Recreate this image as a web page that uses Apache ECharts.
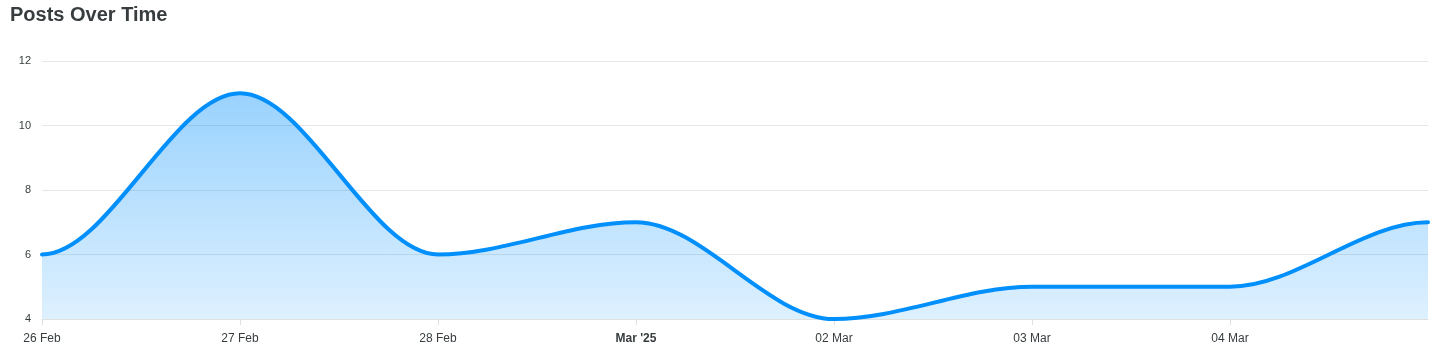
<!DOCTYPE html>
<html>
<head>
<meta charset="utf-8">
<script src="https://cdn.jsdelivr.net/npm/echarts@6/dist/echarts.min.js"></script>
<style>
html,body{margin:0;padding:0;background:#fff;}
#c{width:1439px;height:350px;}
</style>
</head>
<body>
<div id="c"></div>
<script>
var titleText = 'Posts Over Time';
var categories = ['26 Feb', '27 Feb', '28 Feb', "Mar '25", '02 Mar', '03 Mar', '04 Mar', '05 Mar'];
var shownLabels = ['26 Feb', '27 Feb', '28 Feb', "Mar '25", '02 Mar', '03 Mar', '04 Mar', ''];
var boldLabels = ["Mar '25"];
var posts = [6, 11, 6, 7, 4, 5, 5, 7];
var yTicks = [4, 6, 8, 10, 12];

var chart = echarts.init(document.getElementById('c'), null, {renderer: 'canvas'});
var font = 'Helvetica, Arial, "Liberation Sans", sans-serif';

function renderCurve(params, api) {
  if (params.dataIndex !== 0) return null;
  var pts = posts.map(function (v, i) { return api.coord([i, v]); });
  var base = api.coord([0, yTicks[0]])[1];
  var topY = api.coord([0, Math.max.apply(null, posts)])[1];
  var d = 'M' + pts[0][0] + ' ' + pts[0][1];
  for (var i = 1; i < pts.length; i++) {
    var p0 = pts[i - 1], p1 = pts[i];
    var dx = (p1[0] - p0[0]) / 3;
    d += ' C' + (p0[0] + dx) + ' ' + p0[1] + ' ' + (p1[0] - dx) + ' ' + p1[1] + ' ' + p1[0] + ' ' + p1[1];
  }
  var last = pts[pts.length - 1];
  var area = d + ' L' + last[0] + ' ' + base + ' L' + pts[0][0] + ' ' + base + ' Z';
  return {
    type: 'group',
    children: [
      {
        type: 'path',
        shape: {pathData: area},
        style: {
          fill: new echarts.graphic.LinearGradient(0, topY, 0, base, [
            {offset: 0, color: 'rgba(0,143,251,0.40)'},
            {offset: 1, color: 'rgba(0,143,251,0.13)'}
          ], true),
          stroke: null
        }
      },
      {
        type: 'path',
        shape: {pathData: d},
        style: {fill: null, stroke: '#008ffb', lineWidth: 4, lineCap: 'round', lineJoin: 'round'}
      }
    ]
  };
}

chart.setOption({
  animation: false,
  title: {
    text: titleText,
    left: 5, top: 0,
    textStyle: {fontFamily: font, fontSize: 20, fontWeight: 'bold', color: '#373d3f'}
  },
  grid: {left: 42, right: 11, top: 61, bottom: 31, containLabel: false},
  xAxis: {
    type: 'category',
    data: categories,
    boundaryGap: false,
    axisLine: {show: true, lineStyle: {color: '#e0e0e0', width: 1}},
    axisTick: {show: true, length: 6, lineStyle: {color: '#e0e0e0'},
      interval: function (i) { return shownLabels[i] !== ''; }},
    axisLabel: {
      interval: 0,
      margin: 14,
      fontFamily: font, fontSize: 12, color: '#373d3f',
      formatter: function (v, i) {
        var s = shownLabels[i];
        if (!s) return '';
        return boldLabels.indexOf(s) >= 0 ? '{b|' + s + '}' : s;
      },
      rich: {b: {fontFamily: font, fontSize: 12, fontWeight: 'bold', color: '#373d3f'}}
    },
    splitLine: {show: false}
  },
  yAxis: {
    type: 'value',
    min: yTicks[0], max: yTicks[yTicks.length - 1], interval: 2,
    axisLine: {show: false},
    axisTick: {show: false},
    axisLabel: {margin: 11, fontFamily: font, fontSize: 11, color: '#373d3f'},
    splitLine: {show: true, lineStyle: {color: '#e6e6e6', width: 1}}
  },
  series: [{
    type: 'custom',
    coordinateSystem: 'cartesian2d',
    data: posts.map(function (v, i) { return [i, v]; }),
    encode: {x: 0, y: 1},
    clip: false,
    renderItem: renderCurve
  }]
});
</script>
</body>
</html>
